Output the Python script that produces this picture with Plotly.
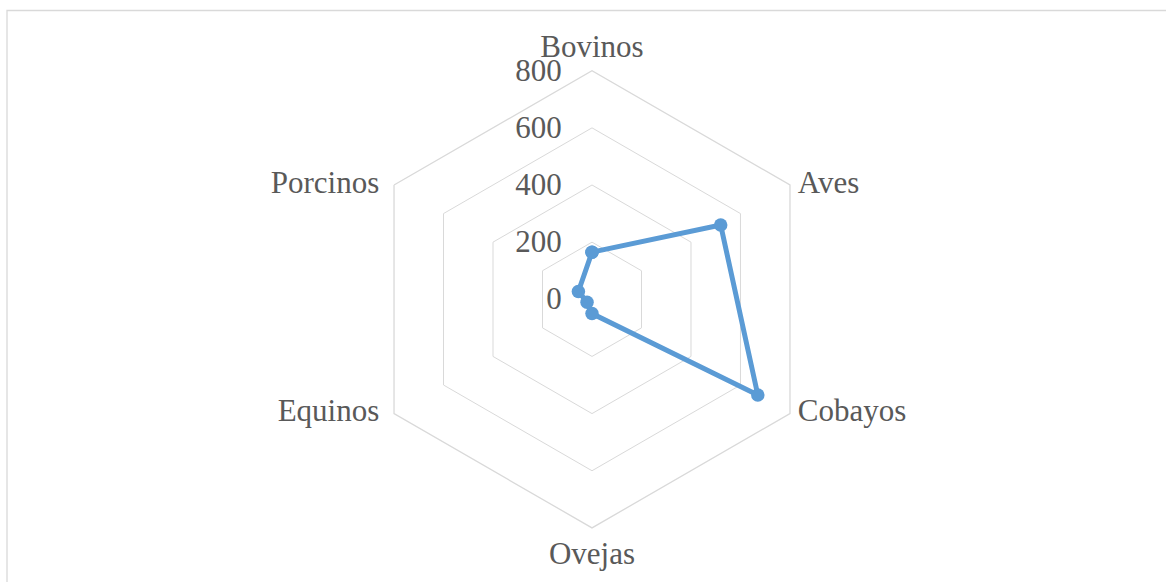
import plotly.graph_objects as go

# Livestock counts per species
categorias = ["Bovinos", "Aves", "Cobayos", "Ovejas", "Equinos", "Porcinos"]
valores = [165, 520, 670, 50, 20, 55]
ticks_radiales = [0, 200, 400, 600, 800]
r_max = 800

W, H = 1166, 582
cx, cy, R = 592.0, 299.3, 228.6

theta = categorias + categorias[:1]
r = valores + valores[:1]

font = dict(family="Liberation Serif, Times New Roman, serif", size=31, color="#595959")

fig = go.Figure()
fig.add_trace(go.Scatterpolar(
    r=r, theta=theta, mode="lines+markers",
    line=dict(color="#5B9BD5", width=5),
    marker=dict(color="#5B9BD5", size=13.5),
    showlegend=False, hoverinfo="r+theta",
))

# Category names placed just outside the outer ring
fig.add_trace(go.Scatterpolar(
    r=[r_max] * len(categorias), theta=categorias, mode="markers+text",
    text=categorias,
    textposition=["top center", "middle right", "middle right",
                  "bottom center", "middle left", "middle left"],
    textfont=font,
    marker=dict(size=[8, 11, 11, 19, 22, 22], color="rgba(0,0,0,0)"),
    cliponaxis=False, showlegend=False, hoverinfo="skip",
))

fig.update_layout(
    width=W, height=H,
    margin=dict(l=0, r=0, t=0, b=0),
    paper_bgcolor="white",
    font=font,
    polar=dict(
        domain=dict(x=[(cx - R) / W, (cx + R) / W],
                    y=[1 - (cy + R) / H, 1 - (cy - R) / H]),
        gridshape="linear",
        bgcolor="white",
        angularaxis=dict(
            direction="clockwise", rotation=90,
            showgrid=False, showline=True, linecolor="#D9D9D9", linewidth=1.3,
            ticks="", showticklabels=False,
        ),
        radialaxis=dict(
            range=[0, r_max], tickvals=ticks_radiales,
            ticktext=[str(v) for v in ticks_radiales],
            angle=90, tickangle=90, side="counterclockwise",
            showline=False, gridcolor="#D9D9D9", gridwidth=1.3,
            ticks="outside", ticklen=19, tickcolor="rgba(0,0,0,0)",
            tickfont=font,
        ),
    ),
    shapes=[dict(
        type="rect", xref="paper", yref="paper",
        x0=7 / W, x1=1.02, y0=-0.02, y1=1 - 10.5 / H,
        line=dict(color="#D9D9D9", width=1.3), fillcolor="rgba(0,0,0,0)",
        layer="below",
    )],
)

fig.write_html("out.html")
